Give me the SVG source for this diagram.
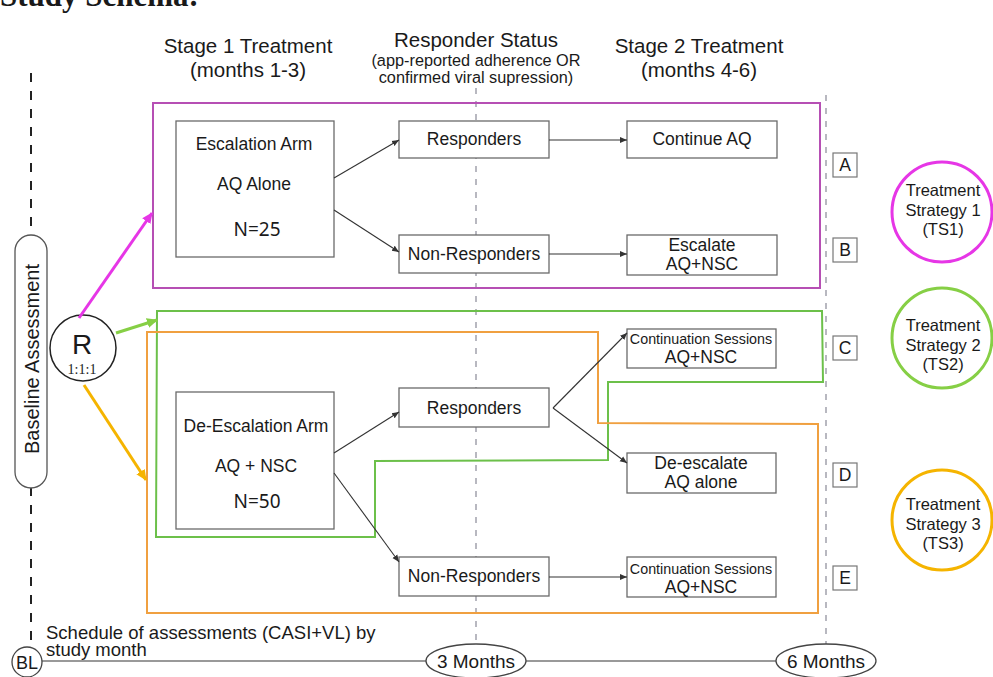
<svg xmlns="http://www.w3.org/2000/svg" width="993" height="677" viewBox="0 0 993 677">
<defs>
<style>
text{font-family:"Liberation Sans",Arial,sans-serif;fill:#1a1a1a}
.box{fill:#fff;stroke:#6a6a6a;stroke-width:1.3}
.t17{font-size:17.5px;text-anchor:middle}
.t16{font-size:17.5px;text-anchor:middle}
.t14{font-size:14.3px;text-anchor:middle}
.hd{font-size:20.5px;text-anchor:middle}
.sub{font-size:16.3px;text-anchor:middle}
.n{font-family:"Noto Sans","Open Sans",sans-serif;font-size:19px;text-anchor:middle}
.conn{stroke:#333;stroke-width:1.1;fill:none;marker-end:url(#ah)}
.vdash{stroke:#b8b8c0;stroke-width:2;stroke-dasharray:6 7;fill:none}
.lbl{fill:#fff;stroke:#777;stroke-width:1.2}
.ts{fill:#fff;stroke-width:3}
.tst{font-size:16.5px;text-anchor:middle}
</style>
<marker id="ah" markerWidth="8" markerHeight="8" refX="7" refY="4" orient="auto" markerUnits="userSpaceOnUse">
<path d="M0,1 L7,4 L0,7 z" fill="#333"/>
</marker>
<marker id="ahm" markerWidth="12" markerHeight="12" refX="10" refY="6" orient="auto" markerUnits="userSpaceOnUse">
<path d="M0,1 L11,6 L0,11 z" fill="#e636e6"/>
</marker>
<marker id="ahg" markerWidth="12" markerHeight="12" refX="10" refY="6" orient="auto" markerUnits="userSpaceOnUse">
<path d="M0,1 L11,6 L0,11 z" fill="#86cf45"/>
</marker>
<marker id="aho" markerWidth="12" markerHeight="12" refX="10" refY="6" orient="auto" markerUnits="userSpaceOnUse">
<path d="M0,1 L11,6 L0,11 z" fill="#f5b400"/>
</marker>
</defs>
<rect width="993" height="677" fill="#fff"/>
<text x="0" y="6" style="font-family:'Liberation Serif',serif;font-weight:bold;font-size:31px">Study Schema:</text>

<g id="headers">
<text class="hd" x="248" y="53">Stage 1 Treatment</text>
<text class="hd" x="248" y="77">(months 1-3)</text>
<text class="hd" x="476" y="47">Responder Status</text>
<text class="sub" x="476" y="66">(app-reported adherence OR</text>
<text class="sub" x="476" y="83">confirmed viral supression)</text>
<text class="hd" x="699" y="53">Stage 2 Treatment</text>
<text class="hd" x="699" y="77">(months 4-6)</text>
</g>

<g id="timelines">
<line x1="31" y1="73" x2="31" y2="648" stroke="#222" stroke-width="2" stroke-dasharray="9 9"/>
<line class="vdash" x1="476" y1="88" x2="476" y2="645"/>
<line class="vdash" x1="826" y1="95" x2="826" y2="645"/>
</g>

<g id="strategy-boxes">
<rect x="153" y="103" width="667" height="185" fill="none" stroke="#b64fb4" stroke-width="2"/>
<polygon points="157,311 822,311 823,382 608,382 608,460 375,461 375,537 156,537" fill="none" stroke="#6cc04a" stroke-width="2"/>
<polygon points="147,332 598,332 598,423 818,424 818,613 147,613" fill="none" stroke="#f0a040" stroke-width="2"/>
</g>

<g id="baseline">
<rect x="15" y="235" width="32" height="253" rx="16" fill="#fff" stroke="#555" stroke-width="1.3"/>
<text x="0" y="0" transform="translate(39,359) rotate(-90)" style="font-size:20px;text-anchor:middle">Baseline Assessment</text>
</g>

<g id="randomize">
<circle cx="83" cy="348" r="33" fill="#fff" stroke="#222" stroke-width="1.5"/>
<text x="82" y="354" style="font-size:28px;text-anchor:middle">R</text>
<text x="82" y="374" style="font-family:'Liberation Serif',serif;font-size:14px;text-anchor:middle">1:1:1</text>
</g>

<g id="escalation-arm">
<rect class="box" x="176" y="121" width="158" height="136"/>
<text class="t16" x="254" y="150">Escalation Arm</text>
<text class="t16" x="254" y="190">AQ Alone</text>
<text class="n" x="257" y="236">N=25</text>
</g>
<g id="resp-top"><rect class="box" x="399" y="121" width="150" height="37"/><text class="t17" x="474" y="145">Responders</text></g>
<g id="nonresp-top"><rect class="box" x="399" y="235" width="150" height="38"/><text class="t17" x="474" y="260">Non-Responders</text></g>
<g id="continue-aq"><rect class="box" x="627" y="121" width="150" height="37"/><text class="t17" x="702" y="145">Continue AQ</text></g>
<g id="escalate"><rect class="box" x="627" y="235" width="150" height="40"/><text class="t17" x="702" y="251">Escalate</text><text class="t17" x="702" y="270">AQ+NSC</text></g>

<g id="deescalation-arm">
<rect class="box" x="176" y="392" width="158" height="137"/>
<text class="t16" x="256" y="432">De-Escalation Arm</text>
<text class="t16" x="256" y="472">AQ + NSC</text>
<text class="n" x="257" y="508">N=50</text>
</g>
<g id="resp-bottom"><rect class="box" x="399" y="388" width="150" height="39"/><text class="t17" x="474" y="414">Responders</text></g>
<g id="nonresp-bottom"><rect class="box" x="399" y="557" width="150" height="39"/><text class="t17" x="474" y="582">Non-Responders</text></g>
<g id="cont-sessions-c"><rect class="box" x="627" y="329" width="149" height="39"/><text class="t14" x="701" y="344">Continuation Sessions</text><text class="t17" x="701" y="363">AQ+NSC</text></g>
<g id="deescalate"><rect class="box" x="627" y="453" width="149" height="40"/><text class="t17" x="701" y="469">De-escalate</text><text class="t17" x="701" y="488">AQ alone</text></g>
<g id="cont-sessions-e"><rect class="box" x="627" y="557" width="149" height="40"/><text class="t14" x="701" y="574">Continuation Sessions</text><text class="t17" x="701" y="593">AQ+NSC</text></g>

<g id="letters">
<rect class="lbl" x="833" y="153" width="24" height="24"/><text class="t16" x="845" y="171">A</text>
<rect class="lbl" x="833" y="238" width="24" height="24"/><text class="t16" x="845" y="256">B</text>
<rect class="lbl" x="833" y="336" width="24" height="24"/><text class="t16" x="845" y="354">C</text>
<rect class="lbl" x="833" y="463" width="24" height="24"/><text class="t16" x="845" y="481">D</text>
<rect class="lbl" x="833" y="566" width="24" height="24"/><text class="t16" x="845" y="584">E</text>
</g>

<g id="ts1"><circle class="ts" cx="942" cy="212" r="50" stroke="#e636e6"/><text class="tst" x="943" y="196">Treatment</text><text class="tst" x="943" y="216">Strategy 1</text><text class="tst" x="943" y="235">(TS1)</text></g>
<g id="ts2"><circle class="ts" cx="942" cy="338" r="50" stroke="#86cf45"/><text class="tst" x="943" y="331">Treatment</text><text class="tst" x="943" y="351">Strategy 2</text><text class="tst" x="943" y="370">(TS2)</text></g>
<g id="ts3"><circle class="ts" cx="942" cy="520" r="50" stroke="#f5b400"/><text class="tst" x="943" y="510">Treatment</text><text class="tst" x="943" y="530">Strategy 3</text><text class="tst" x="943" y="549">(TS3)</text></g>

<g id="connectors">
<line x1="79" y1="318" x2="152" y2="213" stroke="#e636e6" stroke-width="3" marker-end="url(#ahm)"/>
<line x1="116" y1="333" x2="157" y2="320" stroke="#86cf45" stroke-width="3" marker-end="url(#ahg)"/>
<line x1="84" y1="385" x2="146" y2="480" stroke="#f5b400" stroke-width="3" marker-end="url(#aho)"/>
<line class="conn" x1="334" y1="178" x2="399" y2="140"/>
<line class="conn" x1="334" y1="210" x2="399" y2="252"/>
<line class="conn" x1="549" y1="140" x2="627" y2="140"/>
<line class="conn" x1="549" y1="254" x2="627" y2="254"/>
<line class="conn" x1="334" y1="453" x2="399" y2="412"/>
<line class="conn" x1="334" y1="473" x2="399" y2="562"/>
<line class="conn" x1="553" y1="408" x2="627" y2="333"/>
<line class="conn" x1="553" y1="408" x2="627" y2="463"/>
<line class="conn" x1="549" y1="577" x2="627" y2="577"/>
</g>

<g id="schedule">
<text x="46" y="639" style="font-size:18.5px">Schedule of assessments (CASI+VL) by</text>
<text x="46" y="656" style="font-size:18.5px">study month</text>
<line x1="42" y1="661" x2="426" y2="661" stroke="#777" stroke-width="1.5"/>
<line x1="526" y1="661" x2="776" y2="661" stroke="#777" stroke-width="1.5"/>
<g id="bl"><circle cx="27" cy="662" r="15" fill="#fff" stroke="#444" stroke-width="1.3"/><text x="27" y="669" style="font-size:18px;text-anchor:middle">BL</text></g>
<g id="m3"><ellipse cx="476" cy="661" rx="50" ry="17" fill="#fff" stroke="#444" stroke-width="1.3"/><text x="476" y="668" style="font-size:19px;text-anchor:middle">3 Months</text></g>
<g id="m6"><ellipse cx="826" cy="661" rx="50" ry="17" fill="#fff" stroke="#444" stroke-width="1.3"/><text x="826" y="668" style="font-size:19px;text-anchor:middle">6 Months</text></g>
</g>
</svg>
